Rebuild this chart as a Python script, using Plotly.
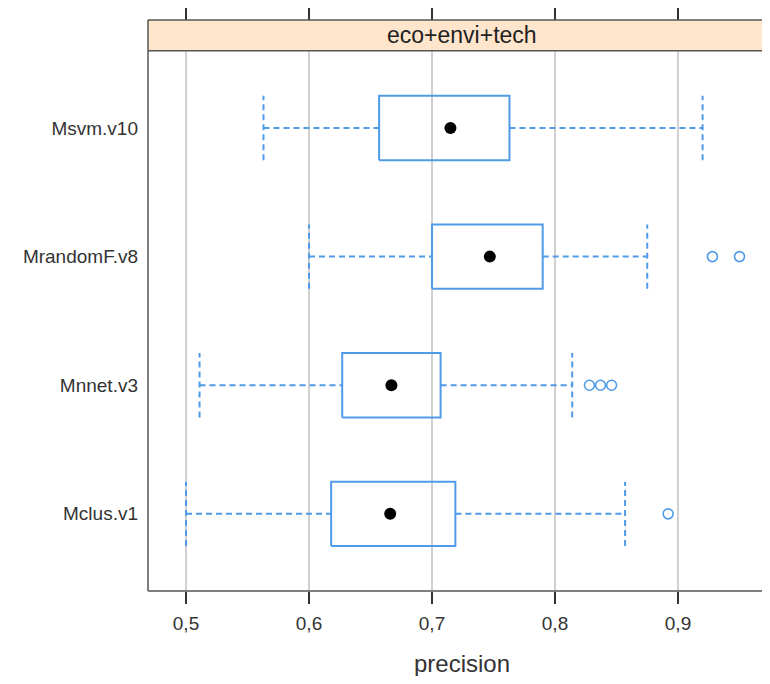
import plotly.graph_objects as go

# ---- data ----
categories = ["Mclus.v1", "Mnnet.v3", "MrandomF.v8", "Msvm.v10"]
lower_whisker = [0.500, 0.511, 0.600, 0.563]
q1 = [0.618, 0.627, 0.700, 0.657]
median = [0.666, 0.667, 0.747, 0.715]
q3 = [0.719, 0.707, 0.790, 0.763]
upper_whisker = [0.857, 0.814, 0.875, 0.920]
outliers = [[0.892], [0.828, 0.837, 0.846], [0.928, 0.950], []]
tick_vals = [0.5, 0.6, 0.7, 0.8, 0.9]
tick_text = ["0,5", "0,6", "0,7", "0,8", "0,9"]
panel_title = "eco+envi+tech"
x_title = "precision"

BLUE = "#4f9be8"
HALF = 0.25
FONT = "Liberation Sans, Arial, sans-serif"

fig = go.Figure()

# whisker stems (dashed)
wx, wy = [], []
for i in range(len(categories)):
    wx += [lower_whisker[i], q1[i], None, q3[i], upper_whisker[i], None]
    wy += [i, i, None, i, i, None]
fig.add_trace(go.Scatter(x=wx, y=wy, mode="lines",
                         line=dict(color=BLUE, width=2, dash="6px,4px"),
                         hoverinfo="skip", showlegend=False))

# whisker caps (dashed, vertical)
cx, cy = [], []
for i in range(len(categories)):
    for v in (lower_whisker[i], upper_whisker[i]):
        cx += [v, v, None]
        cy += [i - HALF, i + HALF, None]
fig.add_trace(go.Scatter(x=cx, y=cy, mode="lines",
                         line=dict(color=BLUE, width=2, dash="6px,4px"),
                         hoverinfo="skip", showlegend=False))

# boxes
bx, by = [], []
for i in range(len(categories)):
    bx += [q1[i], q3[i], q3[i], q1[i], q1[i], None]
    by += [i - HALF, i - HALF, i + HALF, i + HALF, i - HALF, None]
fig.add_trace(go.Scatter(x=bx, y=by, mode="lines",
                         line=dict(color=BLUE, width=2),
                         hoverinfo="skip", showlegend=False))

# medians
fig.add_trace(go.Scatter(x=median, y=list(range(len(categories))), mode="markers",
                         marker=dict(color="black", size=12),
                         showlegend=False))

# outliers
ox, oy = [], []
for i, vals in enumerate(outliers):
    for v in vals:
        ox.append(v)
        oy.append(i)
fig.add_trace(go.Scatter(x=ox, y=oy, mode="markers",
                         marker=dict(symbol="circle-open", color=BLUE, size=10,
                                     line=dict(width=1.6, color=BLUE)),
                         showlegend=False))

# invisible trace for top axis
fig.add_trace(go.Scatter(x=[tick_vals[0]], y=[0], xaxis="x2", mode="markers",
                         marker=dict(opacity=0), hoverinfo="skip", showlegend=False))

# page has an 8px body margin; figure sized so the page does not overflow
PLOT_H = 574
YDOM_TOP = (591 - 48) / PLOT_H

fig.update_layout(
    width=754, height=668,
    margin=dict(l=140, r=0, t=9, b=85),
    paper_bgcolor="white", plot_bgcolor="white",
    font=dict(family=FONT, color="#222222"),
    xaxis=dict(range=[0.4691, 0.9683], tickvals=tick_vals, ticktext=tick_text,
               showgrid=True, gridcolor="#d0d0d0", gridwidth=1.5,
               zeroline=False, showline=False,
               ticks="outside", ticklen=12, tickwidth=1.5, tickcolor="#333333",
               tickfont=dict(size=19, color="#333333"), ticklabelstandoff=3),
    xaxis2=dict(overlaying="x", matches="x", side="top", anchor="free", position=1,
                tickvals=tick_vals, showticklabels=False, showgrid=False,
                zeroline=False, ticks="outside", ticklen=12, tickwidth=1.5,
                tickcolor="#333333"),
    yaxis=dict(range=[-0.6, 3.6], domain=[0, YDOM_TOP],
               tickvals=list(range(len(categories))), ticktext=categories,
               showgrid=False, zeroline=False, showline=False, ticks="",
               tickfont=dict(size=19, color="#333333"), ticklabelstandoff=9),
    shapes=[
        # strip background
        dict(type="rect", xref="paper", yref="paper", x0=0, x1=1.02, y0=YDOM_TOP, y1=1,
             fillcolor="#ffe5cc", line=dict(width=0), layer="below"),
        # borders
        dict(type="line", xref="paper", yref="paper", x0=0, x1=1.02, y0=1, y1=1,
             line=dict(color="#555555", width=1.5)),
        dict(type="line", xref="paper", yref="paper", x0=0, x1=1.02, y0=YDOM_TOP, y1=YDOM_TOP,
             line=dict(color="#555555", width=1.5)),
        dict(type="line", xref="paper", yref="paper", x0=0, x1=1.02, y0=0, y1=0,
             line=dict(color="#555555", width=1.5)),
        dict(type="line", xref="paper", yref="paper", x0=0, x1=0, y0=0, y1=1,
             line=dict(color="#555555", width=1.5)),
    ],
    annotations=[
        dict(text=panel_title, xref="paper", yref="paper", x=(462 - 148) / 614,
             y=(1 + YDOM_TOP) / 2, xanchor="center", yanchor="middle",
             showarrow=False, font=dict(size=23, color="#222222")),
        dict(text=x_title, xref="paper", yref="paper", x=(462 - 148) / 614, y=-73 / PLOT_H,
             xanchor="center", yanchor="middle", showarrow=False,
             font=dict(size=24, color="#333333")),
    ],
)

fig.write_html("out.html")
